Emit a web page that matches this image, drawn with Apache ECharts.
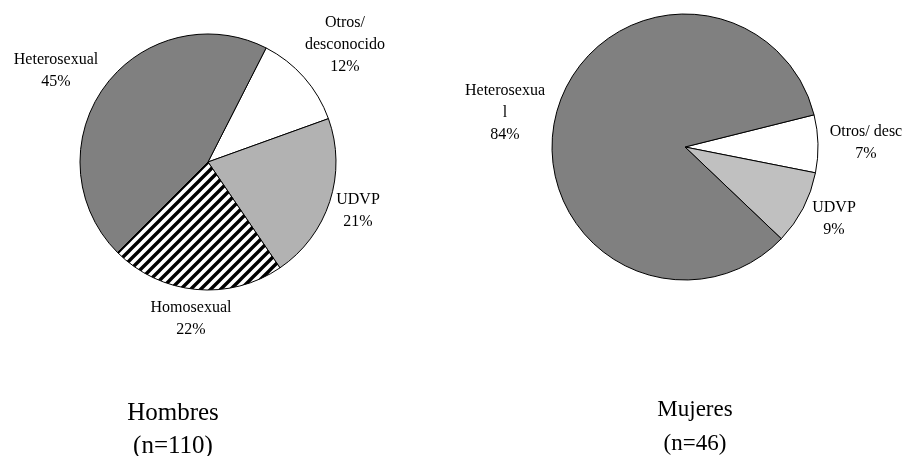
<!DOCTYPE html>
<html>
<head>
<meta charset="utf-8">
<script src="https://cdn.jsdelivr.net/npm/echarts@6/dist/echarts.min.js"></script>
<style>
  html, body { margin: 0; padding: 0; background: #fff; }
  #chart { width: 907px; height: 456px; }
</style>
</head>
<body>
<div id="chart"></div>
<script>
// data, clockwise from the first slice
var menNames = ['Otros/\ndesconocido', 'UDVP', 'Homosexual', 'Heterosexual']
var menValues = [12, 21, 22, 45]
var womenNames = ['Otros/ desc', 'UDVP', 'Heterosexua\nl']
var womenValues = [7, 9, 84]

// label anchors (centre of each text block)
var menLabelPos = [[345, 45], [358, 211], [191, 319], [56, 71]]
var womenLabelPos = [[866, 143], [834, 219], [505, 113]]

function stripes() {
  var s = 10
  var c = document.createElement('canvas')
  c.width = s
  c.height = s
  var ctx = c.getContext('2d')
  ctx.fillStyle = '#fff'
  ctx.fillRect(0, 0, s, s)
  ctx.strokeStyle = '#000'
  ctx.lineWidth = 3.4
  ctx.beginPath()
  ctx.moveTo(-2, s + 2); ctx.lineTo(s + 2, -2)
  ctx.moveTo(-s / 2 - 2, s / 2 + 2); ctx.lineTo(s / 2 + 2, -s / 2 - 2)
  ctx.moveTo(s / 2 - 2, s * 1.5 + 2); ctx.lineTo(s * 1.5 + 2, s / 2 - 2)
  ctx.stroke()
  return c
}

var menColors = ['#ffffff', '#b2b2b2', { image: stripes(), repeat: 'repeat' }, '#808080']
var womenColors = ['#ffffff', '#c0c0c0', '#808080']

var font = '"Liberation Serif", "Times New Roman", serif'

function makeData(names, values, colors) {
  return names.map(function(n, i) {
    return { name: n, value: values[i], itemStyle: { color: colors[i] } }
  })
}

function pie(center, radius, startAngle, data, pos) {
  return {
    type: 'pie',
    center: center,
    radius: radius,
    startAngle: startAngle,
    clockwise: true,
    silent: true,
    animation: false,
    itemStyle: { borderColor: '#000', borderWidth: 1 },
    label: {
      show: true,
      position: 'outside',
      formatter: '{b}\n{c}%',
      fontFamily: font,
      fontSize: 16,
      lineHeight: 22,
      color: '#000',
      align: 'center',
      overflow: 'none',
      width: 200
    },
    labelLine: { show: false },
    labelLayout: function(p) {
      var xy = pos[p.dataIndex]
      return { x: xy[0], y: xy[1], align: 'center', verticalAlign: 'middle', hideOverlap: false }
    },
    data: data
  }
}

var chart = echarts.init(document.getElementById('chart'))
chart.setOption({
  backgroundColor: '#fff',
  title: [
    {
      text: 'Hombres\n(n=110)',
      left: 168,
      top: 392,
      textAlign: 'center',
      textStyle: { fontFamily: font, fontSize: 25, fontWeight: 'normal', color: '#000', lineHeight: 33 }
    },
    {
      text: 'Mujeres\n(n=46)',
      left: 690,
      top: 388,
      textAlign: 'center',
      textStyle: { fontFamily: font, fontSize: 23, fontWeight: 'normal', color: '#000', lineHeight: 34 }
    }
  ],
  series: [
    pie([208, 162], 128, 63, makeData(menNames, menValues, menColors), menLabelPos),
    pie([685, 147], 133, 14, makeData(womenNames, womenValues, womenColors), womenLabelPos)
  ]
})
</script>
</body>
</html>
